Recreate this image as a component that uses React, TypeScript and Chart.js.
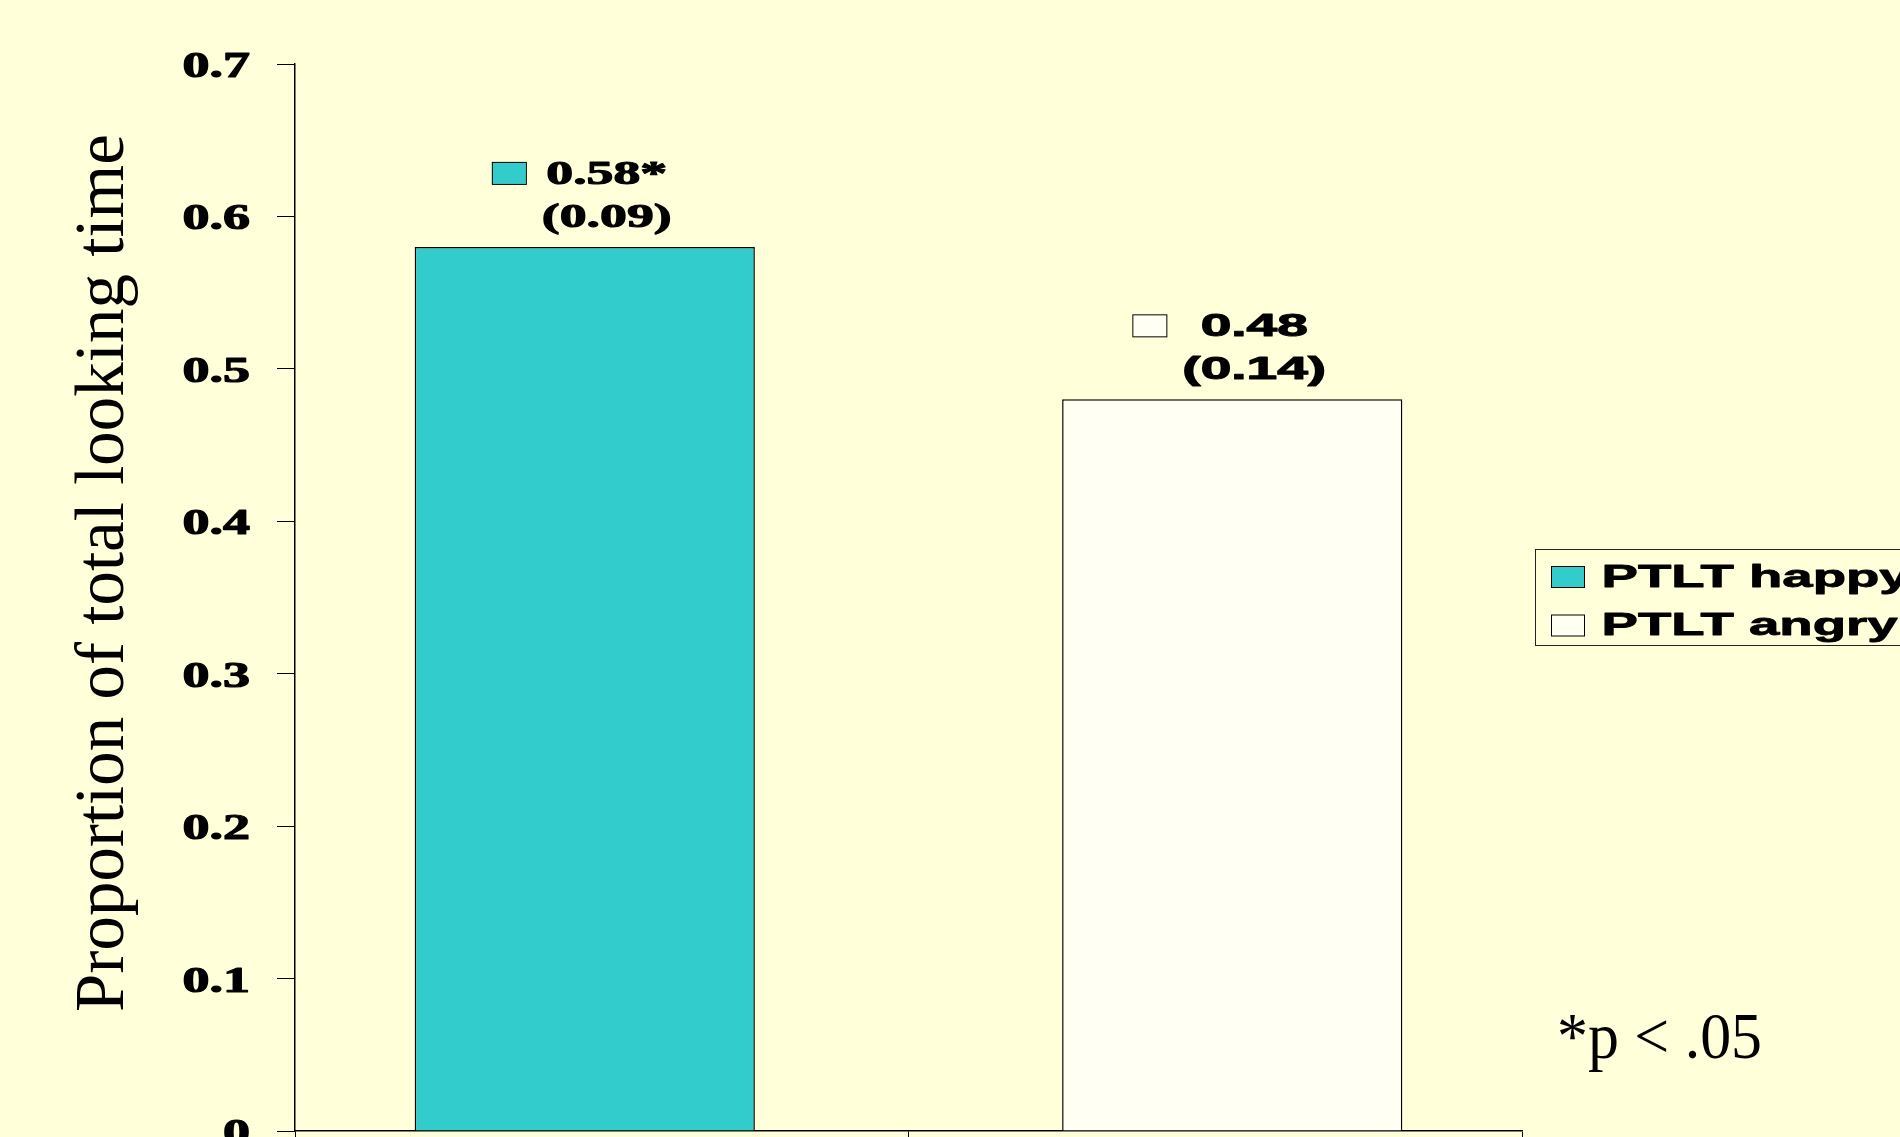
import React, { useEffect, useRef } from 'react';
import { Chart, registerables } from 'chart.js';

Chart.register(...registerables);

// ---- data ----
const categories = ['Happy', 'Angry'];
const seriesLabels = ['PTLT happy', 'PTLT angry'];
const happyValues: (number | null)[] = [0.58, null];
const angryValues: (number | null)[] = [null, 0.48];
const meanValues = [0.58, 0.48];
const sdValues = [0.09, 0.14];
const sigMarks = ['*', ''];
const yTickValues = [0, 0.1, 0.2, 0.3, 0.4, 0.5, 0.6, 0.7];
const yTitle = 'Proportion of total looking time';
const footnote = '*p < .05';

// ---- styles ----
const BG = '#FFFFD9';
const seriesColors = ['#33CCCC', '#FFFFF3'];
const labelFonts = [
  { font: 'bold 34px "Liberation Serif"', sx: 1.58 },
  { font: 'bold 32px "Liberation Sans"', sx: 1.72 },
];

function drawStretched(
  ctx: CanvasRenderingContext2D,
  text: string,
  x: number,
  y: number,
  font: string,
  sx: number,
  align: 'left' | 'right' | 'center',
  stroke = 0
) {
  ctx.save();
  ctx.font = font;
  const w = ctx.measureText(text).width * sx;
  const left = align === 'left' ? x : align === 'right' ? x - w : x - w / 2;
  ctx.translate(left, y);
  ctx.scale(sx, 1);
  ctx.textAlign = 'left';
  ctx.textBaseline = 'alphabetic';
  ctx.fillStyle = '#000';
  ctx.fillText(text, 0, 0);
  if (stroke > 0) {
    ctx.strokeStyle = '#000';
    ctx.lineWidth = stroke;
    ctx.lineJoin = 'round';
    ctx.strokeText(text, 0, 0);
  }
  ctx.restore();
  return w;
}

function measureStretched(ctx: CanvasRenderingContext2D, text: string, font: string, sx: number) {
  ctx.save();
  ctx.font = font;
  const w = ctx.measureText(text).width * sx;
  ctx.restore();
  return w;
}

const bgPlugin = {
  id: 'bgPlugin',
  beforeDraw(chart: any) {
    const ctx = chart.ctx as CanvasRenderingContext2D;
    ctx.save();
    ctx.fillStyle = BG;
    ctx.fillRect(0, 0, chart.width, chart.height);
    ctx.restore();
  },
};

const decorPlugin = {
  id: 'decorPlugin',
  afterDraw(chart: any) {
    const ctx = chart.ctx as CanvasRenderingContext2D;
    const yScale = chart.scales.y;

    // y tick labels
    yScale.ticks.forEach((t: any) => {
      const py = yScale.getPixelForValue(t.value);
      const label = t.value === 0 ? '0' : Number(t.value).toFixed(1);
      drawStretched(ctx, label, 250, py + 13, 'bold 36px "Liberation Serif"', 1.5, 'right', 1.2);
    });

    // y title
    ctx.save();
    ctx.translate(123, 573);
    ctx.rotate(-Math.PI / 2);
    ctx.font = '69px "Liberation Serif"';
    ctx.fillStyle = '#000';
    ctx.textAlign = 'center';
    ctx.textBaseline = 'alphabetic';
    ctx.fillText(yTitle, 0, 0);
    ctx.restore();

    // legend
    ctx.save();
    ctx.strokeStyle = '#222';
    ctx.lineWidth = 1;
    ctx.strokeRect(1535.5, 549.5, 420, 96);
    const rows = [566.5, 615];
    chart.data.datasets.forEach((ds: any, i: number) => {
      ctx.fillStyle = ds.backgroundColor;
      ctx.fillRect(1551.5, rows[i], 33, 21);
      ctx.strokeStyle = '#000';
      ctx.lineWidth = 1;
      ctx.strokeRect(1551.5, rows[i], 33, 21);
      drawStretched(ctx, ds.label, 1601.5, rows[i] + 20, 'bold 31px "Liberation Sans"', 1.76, 'left', 0.8);
    });
    ctx.restore();

    // footnote
    ctx.save();
    ctx.font = '66px "Liberation Serif"';
    const nat = ctx.measureText(footnote).width;
    ctx.restore();
    drawStretched(ctx, footnote, 1557, 1058, '66px "Liberation Serif"', 205 / nat, 'left');
  },
  afterDatasetsDraw(chart: any) {
    const ctx = chart.ctx as CanvasRenderingContext2D;
    categories.forEach((_, i) => {
      const meta = chart.getDatasetMeta(i);
      const bar = meta.data[i];
      if (!bar) return;
      const cx = bar.x;
      const top = bar.y;
      const f = labelFonts[i];
      const line1 = meanValues[i].toFixed(2) + sigMarks[i];
      const line2 = '(' + sdValues[i].toFixed(2) + ')';
      const w1 = measureStretched(ctx, line1, f.font, f.sx);
      const w2 = measureStretched(ctx, line2, f.font, f.sx);
      const block = Math.max(w1, w2);
      const keyW = 34;
      const keyH = 22;
      const gap = 16;
      const total = keyW + gap + block;
      const left = cx - 3 - total / 2;
      ctx.save();
      ctx.fillStyle = seriesColors[i];
      ctx.fillRect(left, top - 85, keyW, keyH);
      ctx.strokeStyle = '#000';
      ctx.lineWidth = 1;
      ctx.strokeRect(left + 0.5, top - 85 + 0.5, keyW, keyH);
      ctx.restore();
      const tc = left + keyW + gap + block / 2;
      drawStretched(ctx, line1, tc, top - 63, f.font, f.sx, 'center', 1.1);
      drawStretched(ctx, line2, tc, top - 20, f.font, f.sx, 'center', 1.1);
    });
  },
};

export default function App() {
  const ref = useRef<HTMLCanvasElement | null>(null);

  useEffect(() => {
    if (!ref.current) return;
    const chart = new Chart(ref.current, {
      type: 'bar',
      data: {
        labels: categories,
        datasets: [
          {
            label: seriesLabels[0],
            data: happyValues,
            backgroundColor: seriesColors[0],
            borderColor: '#000',
            borderWidth: 1.5,
          },
          {
            label: seriesLabels[1],
            data: angryValues,
            backgroundColor: seriesColors[1],
            borderColor: '#000',
            borderWidth: 1.5,
          },
        ],
      },
      options: {
        responsive: false,
        maintainAspectRatio: false,
        animation: false,
        devicePixelRatio: 1,
        layout: { padding: { left: 0, top: 64, right: 378, bottom: 0 } },
        datasets: {
          bar: { categoryPercentage: 0.1108, barPercentage: 10.01, skipNull: false },
        } as any,
        plugins: {
          legend: { display: false },
          tooltip: { enabled: false },
          title: { display: false },
        },
        scales: {
          x: {
            ticks: { display: false },
            grid: { offset: true, drawOnChartArea: false, drawTicks: true, tickLength: 6, color: '#000', lineWidth: 1 },
            border: { display: true, color: '#000', width: 1.5 },
            afterFit: (s: any) => {
              s.height = 6;
            },
          },
          y: {
            min: 0,
            max: 0.7,
            afterBuildTicks: (s: any) => {
              s.ticks = yTickValues.map((v) => ({ value: v }));
            },
            ticks: { display: false },
            grid: { drawOnChartArea: false, drawTicks: true, tickLength: 18, color: '#000', lineWidth: 1 },
            border: { display: true, color: '#000', width: 1.5 },
            afterFit: (s: any) => {
              s.width = 295;
            },
          },
        },
      },
      plugins: [bgPlugin, decorPlugin],
    });
    return () => chart.destroy();
  }, []);

  return (
    <div style={{ position: 'absolute', left: 0, top: 0, width: 1900, height: 1137, overflow: 'hidden' }}>
      <canvas ref={ref} width={1900} height={1137} style={{ display: 'block', width: 1900, height: 1137 }} />
    </div>
  );
}
